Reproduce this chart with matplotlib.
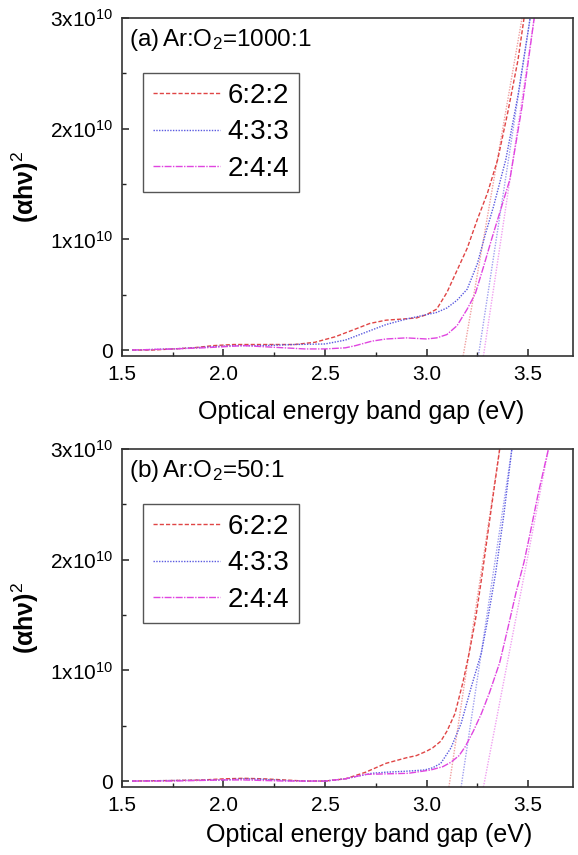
import numpy as np
import matplotlib
matplotlib.use("Agg")
import matplotlib.pyplot as plt
from matplotlib.ticker import MultipleLocator, FixedLocator, FixedFormatter

plt.rcParams['font.family'] = ['Liberation Sans', 'DejaVu Sans']
plt.rcParams['mathtext.fontset'] = 'custom'
plt.rcParams['mathtext.rm'] = 'Liberation Sans'
plt.rcParams['mathtext.it'] = 'Liberation Sans:italic'
plt.rcParams['mathtext.bf'] = 'Liberation Sans:bold'

SCALE = 1e10
labels = ["6:2:2", "4:3:3", "2:4:4"]

# panel (a) Ar:O2 = 1000:1  (y in units of 1e10)
a_x1 = [1.55, 1.65, 1.75, 1.85, 1.95, 2.05, 2.15, 2.25, 2.35, 2.45, 2.55, 2.65, 2.72, 2.80, 2.88,
        2.95, 3.00, 3.05, 3.10, 3.15, 3.20, 3.25, 3.30, 3.35, 3.40, 3.45, 3.48]
a_y1 = [0.0, 0.0, 0.01, 0.02, 0.04, 0.05, 0.05, 0.05, 0.05, 0.07, 0.12, 0.19, 0.24, 0.27, 0.28,
        0.29, 0.32, 0.37, 0.52, 0.72, 0.92, 1.18, 1.42, 1.72, 2.15, 2.62, 3.0]
a_x2 = [1.55, 1.75, 1.95, 2.05, 2.20, 2.35, 2.50, 2.60, 2.70, 2.80, 2.90, 3.00, 3.05, 3.10, 3.15,
        3.20, 3.25, 3.29, 3.33, 3.39, 3.45, 3.51]
a_y2 = [0.0, 0.01, 0.03, 0.04, 0.04, 0.05, 0.055, 0.09, 0.16, 0.23, 0.28, 0.32, 0.34, 0.38, 0.45,
        0.55, 0.78, 1.05, 1.30, 1.72, 2.30, 3.0]
a_x3 = [1.55, 1.75, 1.90, 2.00, 2.10, 2.20, 2.30, 2.40, 2.50, 2.60, 2.65, 2.73, 2.80, 2.90, 3.00,
        3.05, 3.10, 3.15, 3.20, 3.24, 3.28, 3.32, 3.37, 3.41, 3.47, 3.53]
a_y3 = [0.0, 0.01, 0.02, 0.03, 0.04, 0.03, 0.02, 0.01, 0.01, 0.02, 0.04, 0.08, 0.10, 0.11, 0.10,
        0.11, 0.14, 0.22, 0.37, 0.51, 0.75, 1.00, 1.30, 1.54, 2.20, 3.0]
# linear fits (x at bottom / top of the frame)
a_fit_x = [[3.18, 3.47], [3.255, 3.51], [3.28, 3.53]]

# panel (b) Ar:O2 = 50:1
b_x1 = [1.55, 1.75, 1.90, 2.00, 2.10, 2.20, 2.30, 2.40, 2.50, 2.60, 2.65, 2.70, 2.75, 2.80, 2.90,
        2.95, 3.00, 3.03, 3.07, 3.10, 3.14, 3.18, 3.21, 3.24, 3.27, 3.31, 3.36]
b_y1 = [0.0, 0.005, 0.01, 0.02, 0.025, 0.02, 0.01, 0.0, 0.0, 0.02, 0.05, 0.08, 0.12, 0.16, 0.21,
        0.23, 0.27, 0.30, 0.36, 0.45, 0.61, 0.90, 1.16, 1.45, 1.82, 2.35, 3.0]
b_x2 = [1.55, 1.75, 2.00, 2.10, 2.20, 2.30, 2.40, 2.50, 2.60, 2.65, 2.73, 2.80, 2.91, 2.99, 3.03,
        3.07, 3.12, 3.17, 3.22, 3.27, 3.30, 3.34, 3.38, 3.42]
b_y2 = [0.0, 0.005, 0.01, 0.02, 0.015, 0.005, 0.0, 0.0, 0.02, 0.04, 0.07, 0.08, 0.09, 0.10, 0.12,
        0.16, 0.30, 0.52, 0.85, 1.16, 1.45, 1.88, 2.40, 3.0]
b_x3 = [1.55, 1.75, 2.00, 2.10, 2.30, 2.50, 2.60, 2.65, 2.70, 2.80, 2.91, 3.02, 3.08, 3.12, 3.16,
        3.19, 3.23, 3.27, 3.31, 3.36, 3.40, 3.44, 3.48, 3.51, 3.55, 3.60]
b_y3 = [0.0, 0.0, 0.01, 0.01, 0.0, 0.0, 0.02, 0.04, 0.06, 0.065, 0.07, 0.10, 0.13, 0.17, 0.23,
        0.31, 0.45, 0.61, 0.80, 1.07, 1.38, 1.70, 1.98, 2.24, 2.60, 3.0]
b_fit_x = [[3.11, 3.36], [3.17, 3.42], [3.28, 3.60]]

ylo, yhi = -0.054, 3.0
fit_y = [ylo, yhi]

colors = ['#e04545', '#5a5ae0', '#e045e0']
fit_colors = ['#f0a0a0', '#a0a0f0', '#f0a0f0']
styles = [(0, (3, 1.5)), (0, (1, 1)), (0, (5, 1, 1, 1))]

yticks = [0, 1, 2, 3]
ytick_labels = ['0', r'1x10$^{10}$', r'2x10$^{10}$', r'3x10$^{10}$']

fig = plt.figure(figsize=(5.78, 8.55), dpi=100)
ax_a = fig.add_axes([0.211, 0.5836, 0.780, 0.3953])
ax_b = fig.add_axes([0.211, 0.0795, 0.780, 0.3953])

panels = [
    (ax_a, [(a_x1, a_y1), (a_x2, a_y2), (a_x3, a_y3)], a_fit_x, r'(a)$\,$Ar:O$_2$=1000:1', -0.13, 0.53),
    (ax_b, [(b_x1, b_y1), (b_x2, b_y2), (b_x3, b_y3)], b_fit_x, r'(b)$\,$Ar:O$_2$=50:1', -0.107, 0.548),
]

for ax, series, fits, title, xl_y, xl_x in panels:
    for (xs, ys), fx, c, fc, ls, lab in zip(series, fits, colors, fit_colors, styles, labels):
        ax.plot(fx, np.array(fit_y) * SCALE, color=fc, lw=1.0, ls=(0, (1, 1)))
        ax.plot(xs, np.array(ys) * SCALE, color=c, lw=1.0, ls=ls, label=lab)
    ax.set_xlim(1.5, 3.72)
    ax.set_ylim(ylo * SCALE, yhi * SCALE)
    ax.set_xticks([1.5, 2.0, 2.5, 3.0, 3.5])
    ax.set_xticklabels(['1.5', '2.0', '2.5', '3.0', '3.5'])
    ax.xaxis.set_minor_locator(MultipleLocator(0.25))
    ax.yaxis.set_major_locator(FixedLocator([v * SCALE for v in yticks]))
    ax.yaxis.set_major_formatter(FixedFormatter(ytick_labels))
    ax.yaxis.set_minor_locator(FixedLocator([0.5 * SCALE, 1.5 * SCALE, 2.5 * SCALE]))
    ax.tick_params(which='both', direction='in', labelsize=15, color='#222222')
    ax.tick_params(which='major', length=5, width=1.1, pad=6.5)
    ax.tick_params(which='minor', length=3, width=1.0)
    for s in ax.spines.values():
        s.set_linewidth(1.2)
        s.set_color('#333333')
    ax.set_xlabel('Optical energy band gap (eV)', fontsize=18, va='top')
    ax.xaxis.set_label_coords(xl_x, xl_y)
    ax.set_ylabel(r'(αhν)$^2$', fontsize=18, fontweight='bold')
    ax.yaxis.set_label_coords(-0.18, 0.5)
    ax.text(0.016, 0.917, title, transform=ax.transAxes, fontsize=17.5, va='baseline', ha='left')
    leg = ax.legend(loc='upper left', bbox_to_anchor=(0.047, 0.837), borderaxespad=0,
                    fontsize=20, fancybox=False, edgecolor='#555555', framealpha=1,
                    handlelength=2.4, handletextpad=0.3, labelspacing=0.38, borderpad=0.35)
    leg.get_frame().set_linewidth(1.0)

fig.savefig('out.png', dpi=100)
